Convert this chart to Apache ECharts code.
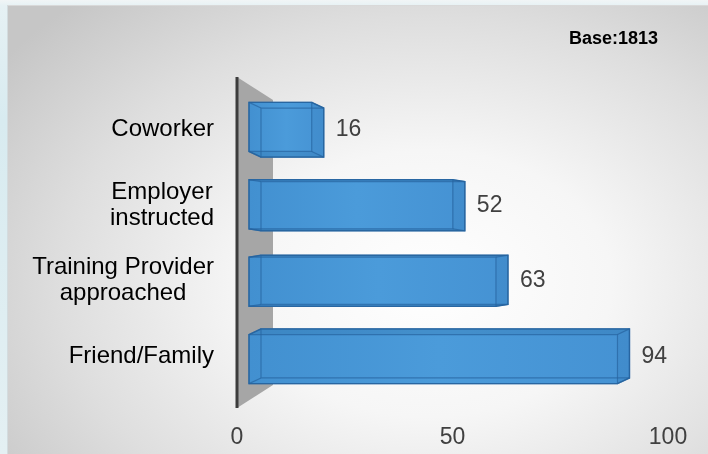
<!DOCTYPE html>
<html>
<head>
<meta charset="utf-8">
<script src="https://cdn.jsdelivr.net/npm/echarts@6/dist/echarts.min.js"></script>
<style>
  html, body { margin: 0; padding: 0; }
  #wrap {
    position: relative; width: 708px; height: 454px; overflow: hidden;
    background: linear-gradient(180deg, #f1f5f6 0px, #e6f1f4 6px, #d8ebf0 120px, #e4f0f3 454px);
  }
  #panel {
    position: absolute; left: 7px; top: 5px; right: 0; bottom: 0;
    border-left: 1px solid #d3dcdf; border-top: 1px solid #d9d9d9;
    background: radial-gradient(ellipse 75% 85% at 60% 62%, #ffffff 0%, #f6f6f6 35%, #dedede 70%, #c6c6c6 100%);
  }
  #chart { position: absolute; left: 0; top: 0; width: 708px; height: 454px; }
</style>
</head>
<body>
<div id="wrap">
  <div id="panel"></div>
  <div id="chart"></div>
</div>
<script>
// 数据
var categories = ['Coworker', 'Employer\ninstructed', 'Training Provider\napproached', 'Friend/Family'];
var values = [16, 52, 63, 94];
var tickMin = 0, tickMax = 100, tickStep = 50;
var baseLabel = 'Base:1813';

var FONT = '"Liberation Sans", Arial, sans-serif';

var chart = echarts.init(document.getElementById('chart'), null, { renderer: 'canvas' });

// 左侧灰色墙
function renderWall(params, api) {
  var cs = params.coordSys;
  var x = cs.x, y = cs.y, h = cs.height;
  return {
    type: 'group',
    children: [
      {
        type: 'polygon',
        shape: { points: [[x, y], [x + 36, y + 23], [x + 36, y + h - 23], [x, y + h]] },
        style: { fill: '#a6a6a6' }
      },
      {
        type: 'line',
        shape: { x1: x, y1: y, x2: x, y2: y + h },
        style: { stroke: '#3c3c3c', lineWidth: 3 }
      }
    ]
  };
}

// 3D 柱子
function renderBar(params, api) {
  var cs = params.coordSys;
  var v = api.value(0), i = api.value(1);
  var end = api.coord([v, i]);
  var start = api.coord([0, i]);
  var cy = end[1];
  var band = api.size([0, 1])[1];
  var h = band * 0.65;
  var dx = 12;
  var mid = cs.y + cs.height / 2;
  var dy = (mid - cy) * 0.05;
  var xl = start[0] - 12, xr = end[0];

  var F = { x1: xl, x2: xr - dx, y1: cy - h / 2 - dy / 2, y2: cy + h / 2 - dy / 2 };
  var B = { x1: xl + dx, x2: xr, y1: cy - h / 2 + dy / 2, y2: cy + h / 2 + dy / 2 };

  var hull;
  if (dy < 0) {
    hull = [[F.x1, F.y1], [B.x1, B.y1], [B.x2, B.y1], [B.x2, B.y2], [F.x2, F.y2], [F.x1, F.y2]];
  } else {
    hull = [[F.x1, F.y1], [F.x2, F.y1], [B.x2, B.y1], [B.x2, B.y2], [B.x1, B.y2], [F.x1, F.y2]];
  }
  var edge = { stroke: 'rgba(38,100,160,0.7)', lineWidth: 1.2, fill: null };
  var children = [
    {
      type: 'polygon',
      shape: { points: hull },
      style: {
        fill: new echarts.graphic.LinearGradient(0, 0, 1, 0, [
          { offset: 0, color: '#4290d0' },
          { offset: 0.5, color: '#4b9bda' },
          { offset: 1, color: '#4592d3' }
        ]),
        stroke: '#2d6ca6', lineWidth: 1.4
      }
    },
    // 顶面 / 底面
    {
      type: 'polygon',
      shape: {
        points: dy < 0
          ? [[F.x1, F.y1], [B.x1, B.y1], [B.x2, B.y1], [F.x2, F.y1]]
          : [[F.x1, F.y2], [B.x1, B.y2], [B.x2, B.y2], [F.x2, F.y2]]
      },
      style: { fill: 'rgba(30,80,130,0.15)' }
    },
    // 右侧面
    {
      type: 'polygon',
      shape: { points: [[F.x2, F.y1], [B.x2, B.y1], [B.x2, B.y2], [F.x2, F.y2]] },
      style: { fill: 'rgba(30,80,130,0.08)' }
    },
    { type: 'rect', shape: { x: F.x1, y: F.y1, width: F.x2 - F.x1, height: F.y2 - F.y1 }, style: edge },
    { type: 'rect', shape: { x: B.x1, y: B.y1, width: B.x2 - B.x1, height: B.y2 - B.y1 }, style: edge },
    { type: 'line', shape: { x1: F.x1, y1: F.y1, x2: B.x1, y2: B.y1 }, style: edge },
    { type: 'line', shape: { x1: F.x2, y1: F.y1, x2: B.x2, y2: B.y1 }, style: edge },
    { type: 'line', shape: { x1: F.x1, y1: F.y2, x2: B.x1, y2: B.y2 }, style: edge },
    { type: 'line', shape: { x1: F.x2, y1: F.y2, x2: B.x2, y2: B.y2 }, style: edge },
    {
      type: 'text',
      style: {
        x: xr + 12, y: cy, text: String(v),
        font: '23px ' + FONT, fill: '#404040',
        textAlign: 'left', textVerticalAlign: 'middle'
      }
    }
  ];
  return { type: 'group', children: children };
}

chart.setOption({
  animation: false,
  backgroundColor: 'transparent',
  textStyle: { fontFamily: FONT },
  graphic: [
    {
      type: 'text', right: 50, top: 30,
      style: { text: baseLabel, font: 'bold 18px ' + FONT, fill: '#000' }
    }
  ],
  grid: [
    { left: 237, right: 40, top: 77, bottom: 46 },
    { left: 261, right: 55, top: 92, bottom: 60 }
  ],
  xAxis: [
    {
      gridIndex: 0, type: 'value', min: tickMin, max: tickMax, interval: tickStep,
      axisLine: { show: false }, axisTick: { show: false }, splitLine: { show: false },
      axisLabel: { fontSize: 23, color: '#404040', margin: 18, fontFamily: FONT }
    },
    { gridIndex: 1, type: 'value', min: tickMin, max: tickMax, show: false }
  ],
  yAxis: [
    { gridIndex: 0, type: 'value', min: 0, max: 1, show: false },
    {
      gridIndex: 1, type: 'category', data: categories, inverse: true,
      axisLine: { show: false }, axisTick: { show: false }, splitLine: { show: false },
      axisLabel: {
        margin: 47, fontSize: 24, color: '#000', lineHeight: 26, fontFamily: FONT,
        formatter: function (val) {
          return val.split('\n').map(function (s) { return '{c|' + s + '}'; }).join('\n');
        },
        rich: { c: { align: 'center', fontSize: 24, lineHeight: 26, color: '#000', fontFamily: FONT } }
      }
    }
  ],
  series: [
    {
      type: 'custom', xAxisIndex: 0, yAxisIndex: 0,
      renderItem: renderWall, data: [[0, 0]], silent: true, z: 1
    },
    {
      type: 'custom', xAxisIndex: 1, yAxisIndex: 1,
      renderItem: renderBar,
      data: values.map(function (v, i) { return [v, i]; }),
      encode: { x: 0, y: 1 }, z: 2
    }
  ]
});
</script>
</body>
</html>
